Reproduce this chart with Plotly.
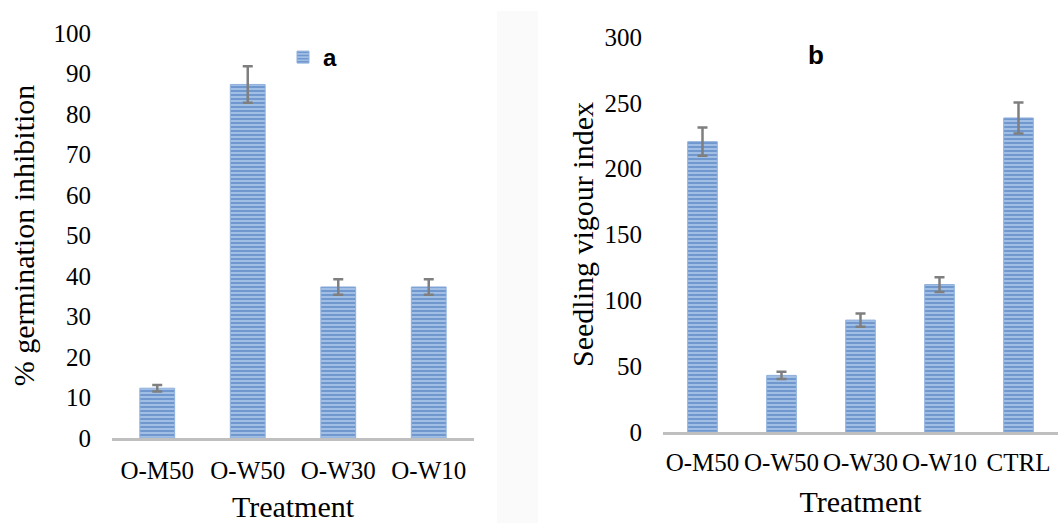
import plotly.graph_objects as go

# ---- data ----
cats_a = ["O-M50", "O-W50", "O-W30", "O-W10"]
vals_a = [12.3, 87.3, 37.3, 37.3]
err_a = [0.8, 4.5, 1.9, 1.9]

cats_b = ["O-M50", "O-W50", "O-W30", "O-W10", "CTRL"]
vals_b = [220.5, 43.0, 85.0, 112.0, 238.5]
err_b = [10.7, 2.8, 5.0, 5.6, 11.7]

yticks_a = list(range(0, 101, 10))
yticks_b = list(range(0, 301, 50))

SERIF = "Liberation Serif, Times New Roman, serif"
SANS = "Liberation Sans, Arial, sans-serif"
FG = "#3a6db5"
BG = "#a6c2e8"
ERR = "#7f7f7f"

W, H = 1063, 523

def px_x(p):
    return p / W

def px_y(p):
    return 1 - p / H

pattern = dict(shape="-", fgcolor=FG, bgcolor=BG, size=4, solidity=0.55, fillmode="overlay")

fig = go.Figure()
fig.add_trace(go.Bar(
    x=cats_a, y=vals_a, name="a", xaxis="x", yaxis="y",
    marker=dict(color=BG, pattern=pattern, line=dict(color="#8fb0dc", width=1)),
    error_y=dict(type="data", array=err_a, color=ERR, thickness=2.5, width=5),
    width=0.385, showlegend=True,
))
fig.add_trace(go.Bar(
    x=cats_b, y=vals_b, name="b", xaxis="x2", yaxis="y2",
    marker=dict(color=BG, pattern=pattern, line=dict(color="#8fb0dc", width=1)),
    error_y=dict(type="data", array=err_b, color=ERR, thickness=2.5, width=5),
    width=0.375, showlegend=False,
))

tickfont = dict(family=SERIF, size=25, color="#000000")
titlefont = dict(family=SERIF, size=30, color="#000000")

fig.update_layout(
    width=W, height=H,
    margin=dict(l=0, r=0, t=0, b=0, autoexpand=False),
    paper_bgcolor="white", plot_bgcolor="white",
    bargap=0.6,
    xaxis=dict(domain=[px_x(112), px_x(474)], anchor="y", showline=True, linecolor="#bfbfbf",
               linewidth=3, showgrid=False, zeroline=False, ticks="", tickfont=tickfont,
               tickangle=0, ticklabelstandoff=8, automargin=False,
               title=dict(text="Treatment", font=titlefont, standoff=15)),
    yaxis=dict(domain=[px_y(438), px_y(33)], anchor="x", range=[0, 100], tickvals=yticks_a,
               showline=False, showgrid=False, zeroline=False, ticks="", tickfont=tickfont,
               ticklabelstandoff=20, automargin=False,
               title=dict(text="% germination inhibition", font=titlefont, standoff=10)),
    xaxis2=dict(domain=[px_x(663), px_x(1058)], anchor="y2", showline=True, linecolor="#bfbfbf",
                linewidth=3, showgrid=False, zeroline=False, ticks="", tickfont=tickfont,
                tickangle=0, ticklabelstandoff=6, automargin=False,
                title=dict(text="Treatment", font=titlefont, standoff=16)),
    yaxis2=dict(domain=[px_y(432), px_y(37)], anchor="x2", range=[0, 300], tickvals=yticks_b,
                showline=False, showgrid=False, zeroline=False, ticks="", tickfont=tickfont,
                ticklabelstandoff=20, automargin=False,
                title=dict(text="Seedling vigour index", font=titlefont, standoff=2)),
    legend=dict(x=px_x(283), y=px_y(35), xanchor="left", yanchor="top",
                bgcolor="rgba(0,0,0,0)", font=dict(family=SANS, size=24, color="#000000", weight="bold"),
                itemwidth=30),
    shapes=[dict(type="rect", xref="paper", yref="paper", x0=px_x(497), x1=px_x(538),
                 y0=0, y1=px_y(11), fillcolor="#fafafa", line=dict(width=0), layer="below")],
    annotations=[dict(text="<b>b</b>", xref="paper", yref="paper", x=px_x(816), y=px_y(55),
                      xanchor="center", yanchor="middle", showarrow=False,
                      font=dict(family=SANS, size=26, color="#000000"))],
)

fig.write_html("out.html", config={"displayModeBar": False},
               post_script="document.body.style.margin='0';document.body.style.overflow='hidden';")
